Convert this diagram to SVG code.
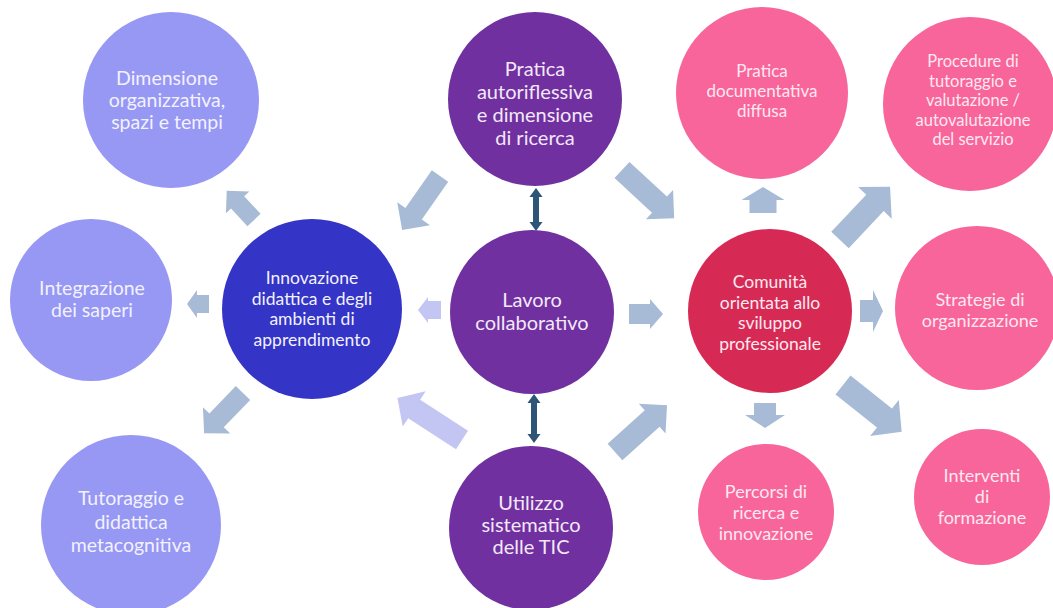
<svg xmlns="http://www.w3.org/2000/svg" width="1053" height="608" viewBox="0 0 1053 608">
<style>
.t{font-family:Lato,"Open Sans","Liberation Sans",sans-serif;font-size:18px;text-anchor:middle;fill:#FFE8F0}
.tl{font-size:19.5px;fill:#F2F2FF}
.tb{font-size:17.5px;fill:#F2F2FF}
.tp{font-size:20px;fill:#F3E8F8}
.lav{fill:#9797F4}
.blu{fill:#3434C6}
.pur{fill:#7030A0}
.pnk{fill:#F7659A}
.crm{fill:#D62A55}
.arr{fill:#A7BBD6}
.arl{fill:#C3C5F3}
.dbl{fill:#2E5478}
</style>
<rect width="1053" height="608" fill="#FFFFFF"/>
<g id="connectors">
<polygon class="arr" points="0,-9 24,-9 24,-16 40,0 24,16 24,9 0,9" transform="translate(254,220) rotate(-133)"/>
<polygon class="arr" points="0,-10 46,-10 46,-20 66,0 46,20 46,10 0,10" transform="translate(440,176) rotate(125)"/>
<polygon class="arr" points="0,-9 12,-9 12,-14 22,0 12,14 12,9 0,9" transform="translate(209,304) rotate(180)"/>
<polygon class="arl" points="0,-9 13,-9 13,-13 23,0 13,13 13,9 0,9" transform="translate(441,310) rotate(180)"/>
<polygon class="arr" points="0,-10 38,-10 38,-19 56,0 38,19 38,10 0,10" transform="translate(243,393) rotate(134)"/>
<polygon class="arl" points="0,-11 57,-11 57,-21 77,0 57,21 57,11 0,11" transform="translate(462,440) rotate(-147)"/>
<polygon class="arr" points="0,-11 51,-11 51,-20 71,0 51,20 51,11 0,11" transform="translate(622,170) rotate(42.7)"/>
<polygon class="arr" points="0,-10 21,-10 21,-15 34,0 21,15 21,10 0,10" transform="translate(629,314)"/>
<polygon class="arr" points="0,-11 50,-11 50,-20 70,0 50,20 50,11 0,11" transform="translate(615,452) rotate(-42)"/>
<polygon class="arr" points="0,-13.5 13,-13.5 13,-21.5 26,0 13,21.5 13,13.5 0,13.5" transform="translate(763,213) rotate(-90)"/>
<polygon class="arr" points="0,-12 51,-12 51,-23 73,0 51,23 51,12 0,12" transform="translate(840,240) rotate(-46.7)"/>
<polygon class="arr" points="0,-11 13,-11 13,-21 23,0 13,21 13,11 0,11" transform="translate(860,311)"/>
<polygon class="arr" points="0,-11 12,-11 12,-20 25,0 12,20 12,11 0,11" transform="translate(765,403) rotate(90)"/>
<polygon class="arr" points="0,-12 53,-12 53,-23 75,0 53,23 53,12 0,12" transform="translate(843,385) rotate(38.5)"/>
<polygon class="dbl" points="536,188 542.5,197 539,197 539,222 542.5,222 536,231 529.5,222 533,222 533,197 529.5,197"/>
<polygon class="dbl" points="534,394 540.5,403 537,403 537,434 540.5,434 534,443 527.5,434 531,434 531,403 527.5,403"/>
</g>
<g id="dimensione">
<circle class="lav" cx="171" cy="100" r="88"/>
<text class="t tl"><tspan x="167" y="85">Dimensione</tspan><tspan x="167" y="107">organizzativa,</tspan><tspan x="167" y="129">spazi e tempi</tspan></text>
</g>
<g id="integrazione">
<circle class="lav" cx="91" cy="300" r="81"/>
<text class="t tl"><tspan x="92" y="295">Integrazione</tspan><tspan x="92" y="317">dei saperi</tspan></text>
</g>
<g id="innovazione">
<circle class="blu" cx="312" cy="309" r="90"/>
<text class="t tb"><tspan x="312" y="284">Innovazione</tspan><tspan x="312" y="304.5">didattica e degli</tspan><tspan x="312" y="325">ambienti di</tspan><tspan x="312" y="345.5">apprendimento</tspan></text>
</g>
<g id="tutoraggio">
<circle class="lav" cx="131" cy="525" r="90"/>
<text class="t tl"><tspan x="131" y="505">Tutoraggio e</tspan><tspan x="131" y="529">didattica</tspan><tspan x="131" y="552">metacognitiva</tspan></text>
</g>
<g id="pratica-autoriflessiva">
<circle class="pur" cx="535" cy="99" r="87"/>
<text class="t tp"><tspan x="535" y="76">Pratica</tspan><tspan x="535" y="99">autoriflessiva</tspan><tspan x="535" y="122">e dimensione</tspan><tspan x="535" y="145">di ricerca</tspan></text>
</g>
<g id="lavoro">
<circle class="pur" cx="532" cy="312" r="82"/>
<text class="t tp"><tspan x="532" y="307">Lavoro</tspan><tspan x="532" y="330">collaborativo</tspan></text>
</g>
<g id="utilizzo">
<circle class="pur" cx="531" cy="528" r="82"/>
<text class="t tp"><tspan x="531" y="510">Utilizzo</tspan><tspan x="531" y="532">sistematico</tspan><tspan x="531" y="554">delle TIC</tspan></text>
</g>
<g id="pratica-documentativa">
<circle class="pnk" cx="762" cy="93" r="86"/>
<text class="t" style="font-size:17px"><tspan x="762" y="77">Pratica</tspan><tspan x="762" y="97">documentativa</tspan><tspan x="762" y="117">diffusa</tspan></text>
</g>
<g id="procedure">
<circle class="pnk" cx="970" cy="104" r="87"/>
<text class="t" style="font-size:16.5px"><tspan x="973" y="67">Procedure di</tspan><tspan x="973" y="86.5">tutoraggio e</tspan><tspan x="973" y="106">valutazione /</tspan><tspan x="973" y="125.5">autovalutazione</tspan><tspan x="973" y="145">del servizio</tspan></text>
</g>
<g id="comunita">
<circle class="crm" cx="770" cy="311" r="82"/>
<text class="t" style="font-size:17.5px"><tspan x="770" y="288">Comunità</tspan><tspan x="770" y="309">orientata allo</tspan><tspan x="770" y="329">sviluppo</tspan><tspan x="770" y="350">professionale</tspan></text>
</g>
<g id="strategie">
<circle class="pnk" cx="977" cy="308" r="82"/>
<text class="t"><tspan x="980" y="306">Strategie di</tspan><tspan x="980" y="327">organizzazione</tspan></text>
</g>
<g id="percorsi">
<circle class="pnk" cx="766" cy="512" r="68"/>
<text class="t"><tspan x="766" y="498">Percorsi di</tspan><tspan x="766" y="519">ricerca e</tspan><tspan x="766" y="540">innovazione</tspan></text>
</g>
<g id="interventi">
<circle class="pnk" cx="982" cy="497" r="68"/>
<text class="t"><tspan x="982" y="482">Interventi</tspan><tspan x="982" y="503">di</tspan><tspan x="982" y="524">formazione</tspan></text>
</g>
</svg>
